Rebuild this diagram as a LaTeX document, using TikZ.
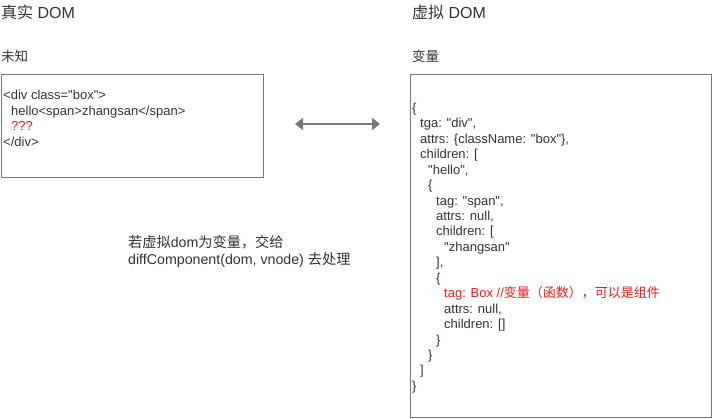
\documentclass[tikz,border=0pt]{standalone}
\usepackage{fontspec}
\setmainfont{Liberation Sans}[Ligatures=TeXOff]
\newfontfamily\cjk{Noto Sans CJK SC}
\usetikzlibrary{arrows.meta}
\definecolor{txt}{HTML}{333333}
\definecolor{edge}{HTML}{777777}
\definecolor{redtxt}{HTML}{E3201B}
\newcommand{\codeR}[4][]{\node[code,#1] (r#2) at ({412+8*#3},{112.3+15.45*#2}) {#4};}
\begin{document}
\begin{tikzpicture}[x=1pt,y=-1pt,
  code/.style={anchor=base west, inner sep=0pt, text=txt, font=\fontsize{13}{15}\selectfont},
  red/.style={text=redtxt},
  title/.style={anchor=base west, inner sep=0pt, text=txt, font=\fontsize{16}{18}\selectfont},
  sub/.style={anchor=base west, inner sep=0pt, text=txt, font=\fontsize{13.5}{15}\selectfont\cjk},
  note/.style={anchor=base west, inner sep=0pt, text=txt, font=\fontsize{14.2}{16}\selectfont},
  box/.style={draw=edge, line width=1.3pt, inner sep=0pt, anchor=north west},
  link/.style={draw=edge, line width=2pt, {Triangle[width=12pt,length=8pt]}-{Triangle[width=12pt,length=8pt]}}
]
\useasboundingbox (0,0) rectangle (712,418);
\fill[white] (0,0) rectangle (712,418);
% titles
\node[title] (t1) at (1,18.5) {{\cjk 真实} DOM};
\node[sub] (s1) at (1,61) {未知};
\node[title] (t2) at (412,18.5) {{\cjk 虚拟} DOM};
\node[sub] (s2) at (412,61) {变量};
% boxes
\node[box, minimum width=262pt, minimum height=103.5pt] (real) at (0.9,73.5) {};
\node[box, minimum width=300.5pt, minimum height=343.5pt] (virt) at (410,73.5) {};
% left code
\node[code] (l0) at (3,99.5) {<div class="box">};
\node[code] (l1) at (11,115) {hello<span>zhangsan</span>};
\node[code,red] (l2) at (11,130.5) {???};
\node[code] (l3) at (3,146) {</div>};
% right code
\codeR{0}{0}{\{}
\codeR{1}{1}{tga: "div",}
\codeR{2}{1}{attrs: \{className: "box"\},}
\codeR{3}{1}{children: [}
\codeR{4}{2}{"hello",}
\codeR{5}{2}{\{}
\codeR{6}{3}{tag: "span",}
\codeR{7}{3}{attrs: null,}
\codeR{8}{3}{children: [}
\codeR{9}{4}{"zhangsan"}
\codeR{10}{3}{],}
\codeR{11}{3}{\{}
\codeR[red]{12}{4}{tag: Box //{\cjk 变量（函数），可以是组件}}
\codeR{13}{4}{attrs: null,}
\codeR{14}{4}{children: []}
\codeR{15}{3}{\}}
\codeR{16}{2}{\}}
\codeR{17}{1}{]}
\codeR{18}{0}{\}}
% note
\node[note] (n1) at (128,247) {{\cjk 若虚拟}dom{\cjk 为变量，交给}};
\node[note] (n2) at (128,264) {diffComponent(dom, vnode) {\cjk 去处理}};
% arrow
\coordinate (al) at (295,124);
\coordinate (ar) at (380,124);
\draw[link] (al) -- (ar);
\end{tikzpicture}
\end{document}
